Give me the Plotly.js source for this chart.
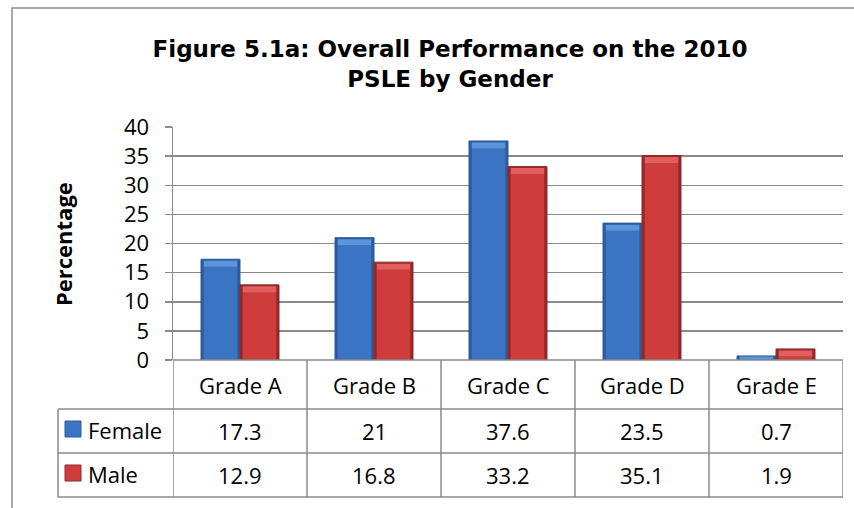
<!DOCTYPE html>
<html>
<head>
<meta charset="utf-8">
<script src="https://cdn.plot.ly/plotly-3.0.1.min.js"></script>
<style>html,body{margin:0;padding:0;background:#fff;}#chart{width:854px;height:508px;}</style>
</head>
<body>
<div id="chart"></div>
<script>
const grades = ['Grade A', 'Grade B', 'Grade C', 'Grade D', 'Grade E'];
const female = [17.3, 21, 37.6, 23.5, 0.7];
const male = [12.9, 16.8, 33.2, 35.1, 1.9];
const seriesNames = ['Female', 'Male'];
const yTicks = [0, 5, 10, 15, 20, 25, 30, 35, 40];

const W = 854, H = 508;
const M = {l: 173, r: 11, t: 127, b: 148};
const pw = W - M.l - M.r, ph = H - M.t - M.b;
// pixel -> paper helpers
const px = x => (x - M.l) / pw;
const py = y => (H - M.b - y) / ph;

const barW = 0.291;           // width of one bar in category units
const edgeX = 0.02;           // bevel side size (category units)
const bevelY = 1.3;           // top bevel size (data units)
const colors = {
  Female: {edge: '#2c5b9c', face: '#3b74c2', top: '#5c95dc'},
  Male:   {edge: '#922828', face: '#cf3c3c', top: '#e25e5e'}
};
const FONT = '"Open Sans", Lato, sans-serif';

const traces = [];
[[female, 'Female', -barW], [male, 'Male', 0]].forEach(([vals, name, off]) => {
  const c = colors[name];
  traces.push({type: 'bar', x: grades, y: vals, name: name, offset: off, width: barW,
    marker: {color: c.edge, line: {color: c.edge, width: 1}}, showlegend: false, hoverinfo: 'y'});
  traces.push({type: 'bar', x: grades, y: vals.map(v => Math.max(v - bevelY, 0)), offset: off + edgeX,
    width: barW - 2 * edgeX, marker: {color: c.face, line: {width: 0}}, showlegend: false, hoverinfo: 'skip'});
  traces.push({type: 'bar', x: grades, y: vals.map(v => Math.min(bevelY * 0.8, v * 0.7)),
    base: vals.map(v => Math.max(v - bevelY, v * 0.15)), offset: off + edgeX, width: barW - 2 * edgeX,
    marker: {color: c.top, line: {width: 0}}, showlegend: false, hoverinfo: 'skip'});
});

const lineC = '#8a8a8a';
const shapes = [];
// outer chart frame
shapes.push({type: 'rect', xref: 'paper', yref: 'paper', x0: px(12), x1: px(870), y0: py(8), y1: py(520),
  line: {color: lineC, width: 1.5}, fillcolor: 'rgba(0,0,0,0)'});
// table rows
const rowTop = py(360), rowH = py(409), rowF = py(453), rowM = py(497);
const lastX = grades.length - 0.5;
shapes.push({type: 'line', xref: 'x', yref: 'paper', x0: -0.5, x1: lastX, y0: rowTop, y1: rowTop, line: {color: lineC, width: 1.5}});
[rowH, rowF, rowM].forEach(y => {
  shapes.push({type: 'line', xref: 'paper', yref: 'paper', x0: px(58), x1: 1, y0: y, y1: y, line: {color: lineC, width: 1.5}});
});
for (let i = 0; i <= grades.length; i++) {
  shapes.push({type: 'line', xref: 'x', yref: 'paper', x0: i - 0.5, x1: i - 0.5, y0: rowTop, y1: rowM, line: {color: lineC, width: 1.5}});
}
shapes.push({type: 'line', xref: 'paper', yref: 'paper', x0: px(58), x1: px(58), y0: rowH, y1: rowM, line: {color: lineC, width: 1.5}});
// legend keys
[[421, 'Female'], [465, 'Male']].forEach(([top, name]) => {
  const c = colors[name];
  shapes.push({type: 'rect', xref: 'paper', yref: 'paper', x0: px(65), x1: px(81), y0: py(top), y1: py(top + 16),
    fillcolor: c.face, line: {color: c.edge, width: 1}});
});

const annotations = [];
const cellFont = {family: FONT, size: 22, color: '#000'};
grades.forEach((g, i) => {
  annotations.push({xref: 'x', yref: 'paper', x: g, y: py(385), text: g, showarrow: false, font: cellFont, xanchor: 'center', yanchor: 'middle'});
  annotations.push({xref: 'x', yref: 'paper', x: g, y: py(431), text: String(female[i]), showarrow: false, font: cellFont, xanchor: 'center', yanchor: 'middle'});
  annotations.push({xref: 'x', yref: 'paper', x: g, y: py(475), text: String(male[i]), showarrow: false, font: cellFont, xanchor: 'center', yanchor: 'middle'});
});
annotations.push({xref: 'paper', yref: 'paper', x: px(86), y: py(430), text: seriesNames[0], showarrow: false, font: cellFont, xanchor: 'left', yanchor: 'middle'});
annotations.push({xref: 'paper', yref: 'paper', x: px(86), y: py(474), text: seriesNames[1], showarrow: false, font: cellFont, xanchor: 'left', yanchor: 'middle'});
annotations.push({xref: 'paper', yref: 'paper', x: px(63), y: py(244), text: '<b>Percentage</b>', textangle: -90, showarrow: false,
  font: {family: FONT, size: 22, color: '#000'}, xanchor: 'center', yanchor: 'middle'});

const layout = {
  width: W, height: H,
  margin: M,
  paper_bgcolor: '#fff', plot_bgcolor: '#fff',
  title: {text: '<b>Figure 5.1a: Overall Performance on the 2010<br>PSLE by Gender</b>',
    font: {family: '"DejaVu Sans", "Liberation Sans", sans-serif', size: 23, color: '#000'},
    xref: 'container', yref: 'container', x: 450 / W, xanchor: 'center', y: 1 - 57 / H, yanchor: 'middle'},
  barmode: 'overlay',
  xaxis: {type: 'category', range: [-0.5, grades.length - 0.5], showticklabels: false, showgrid: false,
    zeroline: false, showline: false, ticks: ''},
  yaxis: {range: [0, 40], tickvals: yTicks, ticks: 'outside', ticklen: 7, tickwidth: 1.5, tickcolor: lineC,
    showgrid: true, gridcolor: lineC, gridwidth: 1.5, zeroline: false, showline: true, linecolor: lineC, linewidth: 1.5,
    tickfont: {family: FONT, size: 22, color: '#000'}, ticklabelstandoff: 11},
  shapes: shapes,
  annotations: annotations
};

Plotly.newPlot('chart', traces, layout, {displayModeBar: false, staticPlot: true});
</script>
</body>
</html>
